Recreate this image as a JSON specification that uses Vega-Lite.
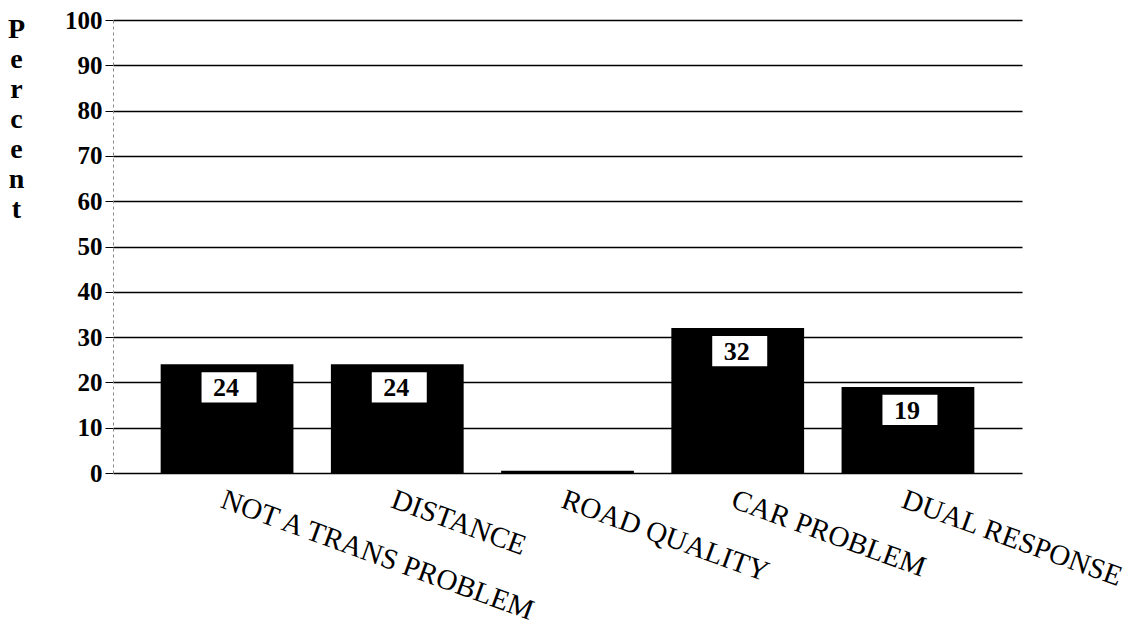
{
  "$schema": "https://vega.github.io/schema/vega-lite/v6.json",
  "autosize": "none",
  "width": 909,
  "height": 453,
  "padding": {"left": 113, "top": 20, "right": 124, "bottom": 160},
  "background": "white",
  "config": {"view": {"stroke": null}},
  "data": {
    "values": [
      {"category": "NOT A TRANS PROBLEM", "percent": 24, "label": "24"},
      {"category": "DISTANCE", "percent": 24, "label": "24"},
      {"category": "ROAD QUALITY", "percent": 0.5, "label": ""},
      {"category": "CAR PROBLEM", "percent": 32, "label": "32"},
      {"category": "DUAL RESPONSE", "percent": 19, "label": "19"}
    ]
  },
  "encoding": {
    "x": {
      "field": "category",
      "type": "nominal",
      "sort": null,
      "scale": {"paddingInner": 0.22, "paddingOuter": 0.28},
      "axis": {
        "title": null,
        "labelAngle": 20,
        "labelAlign": "left",
        "labelBaseline": "top",
        "labelFont": "Liberation Serif",
        "labelFontSize": 29,
        "labelColor": "black",
        "labelPadding": 12,
        "labelLimit": 0,
        "labelDx": -5,
        "ticks": false,
        "domain": false,
        "grid": false
      }
    },
    "y": {
      "field": "percent",
      "type": "quantitative",
      "scale": {"domain": [0, 100], "nice": false},
      "axis": {
        "values": [0, 10, 20, 30, 40, 50, 60, 70, 80, 90, 100],
        "title": ["P", "e", "r", "c", "e", "n", "t"],
        "titleAngle": 0,
        "titleAlign": "center",
        "titleBaseline": "top",
        "titleX": -97,
        "titleY": -5,
        "titleFont": "Liberation Serif",
        "titleFontSize": 28,
        "titleFontWeight": "bold",
        "titleLineHeight": 30,
        "titleColor": "black",
        "labelFont": "Liberation Serif",
        "labelFontSize": 25,
        "labelFontWeight": "bold",
        "labelColor": "black",
        "labelPadding": 3,
        "tickSize": 8,
        "tickColor": "black",
        "tickWidth": 1,
        "domainColor": "#888888",
        "domainDash": [3, 3],
        "domainWidth": 1,
        "grid": true,
        "gridColor": "black",
        "gridWidth": 1.5,
        "gridOpacity": 1
      }
    }
  },
  "layer": [
    {
      "mark": {"type": "bar", "color": "black"}
    },
    {
      "transform": [{"filter": "datum.label != ''"}],
      "mark": {
        "type": "point",
        "shape": "M-1,-0.55L1,-0.55L1,0.55L-1,0.55Z",
        "size": 3025,
        "filled": true,
        "color": "white",
        "opacity": 1,
        "strokeWidth": 0,
        "yOffset": 23,
        "xOffset": 2
      }
    },
    {
      "transform": [{"filter": "datum.label != ''"}],
      "mark": {
        "type": "text",
        "font": "Liberation Serif",
        "fontSize": 26,
        "fontWeight": "bold",
        "color": "black",
        "yOffset": 24,
        "xOffset": -1,
        "baseline": "middle",
        "align": "center"
      },
      "encoding": {"text": {"field": "label"}}
    }
  ]
}
